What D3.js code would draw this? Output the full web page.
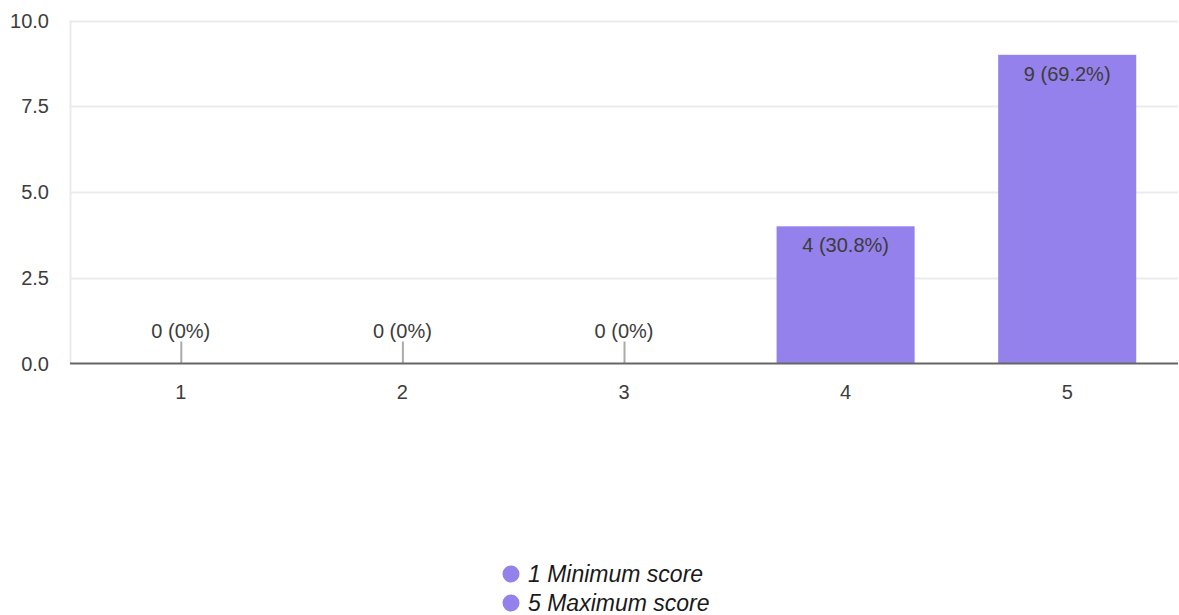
<!DOCTYPE html>
<html>
<head>
<meta charset="utf-8">
<script src="https://cdn.jsdelivr.net/npm/d3@7"></script>
<style>
  html, body { margin: 0; padding: 0; background: #fff; }
  svg { display: block; font-family: "Liberation Sans", Arial, sans-serif; }
</style>
</head>
<body>
<svg id="chart" width="1179" height="615"></svg>
<script>
// Response counts per score
const categories = ["1", "2", "3", "4", "5"];
const counts = [0, 0, 0, 4, 9];
const percents = ["0%", "0%", "0%", "30.8%", "69.2%"];
const yTicks = [0, 2.5, 5, 7.5, 10];
const legendItems = ["1 Minimum score", "5 Maximum score"];

const barColor = "#9581eb";
const textColor = "#3c3c3c";

const svg = d3.select("#chart");
const margin = { left: 70, right: 1, top: 20.5, bottom: 251.5 };
const W = 1179, H = 615;

const x = d3.scaleBand()
  .domain(categories)
  .range([margin.left, W - margin.right])
  .paddingInner(0.377)
  .paddingOuter(0.1885);

const y = d3.scaleLinear()
  .domain([0, 10])
  .range([H - margin.bottom, margin.top]);

// horizontal gridlines
svg.append("g").selectAll("line")
  .data(yTicks.filter(d => d > 0))
  .join("line")
  .attr("x1", margin.left).attr("x2", W - margin.right)
  .attr("y1", d => Math.round(y(d)) + 0.5).attr("y2", d => Math.round(y(d)) + 0.5)
  .attr("stroke", "#ebebeb").attr("stroke-width", 2);

// left vertical gridline
svg.append("line")
  .attr("x1", margin.left + 0.5).attr("x2", margin.left + 0.5)
  .attr("y1", y(10)).attr("y2", y(0))
  .attr("stroke", "#ebebeb").attr("stroke-width", 2);

// y tick labels
svg.append("g").selectAll("text")
  .data(yTicks)
  .join("text")
  .attr("x", 49)
  .attr("y", d => y(d))
  .attr("dy", "0.36em")
  .attr("text-anchor", "end")
  .attr("font-size", 20)
  .attr("fill", textColor)
  .text(d => d3.format(".1f")(d));

const data = categories.map((c, i) => ({ c, v: counts[i], p: percents[i] }));

// bars
svg.append("g").selectAll("rect")
  .data(data.filter(d => d.v > 0))
  .join("rect")
  .attr("x", d => x(d.c))
  .attr("width", x.bandwidth())
  .attr("y", d => y(d.v))
  .attr("height", d => y(0) - y(d.v))
  .attr("fill", barColor);

// stubs for empty categories
svg.append("g").selectAll("line")
  .data(data.filter(d => d.v === 0))
  .join("line")
  .attr("x1", d => x(d.c) + x.bandwidth() / 2 + 0.5)
  .attr("x2", d => x(d.c) + x.bandwidth() / 2 + 0.5)
  .attr("y1", y(0) - 22).attr("y2", y(0))
  .attr("stroke", "#aaa").attr("stroke-width", 2);

// value labels
svg.append("g").selectAll("text")
  .data(data)
  .join("text")
  .attr("x", d => x(d.c) + x.bandwidth() / 2)
  .attr("y", d => d.v > 0 ? y(d.v) + 26 : y(0) - 26)
  .attr("text-anchor", "middle")
  .attr("font-size", 20)
  .attr("fill", textColor)
  .text(d => `${d.v} (${d.p})`);

// baseline axis
svg.append("line")
  .attr("x1", margin.left).attr("x2", W - margin.right)
  .attr("y1", y(0)).attr("y2", y(0))
  .attr("stroke", "#666").attr("stroke-width", 2);

// x tick labels
svg.append("g").selectAll("text")
  .data(categories)
  .join("text")
  .attr("x", d => x(d) + x.bandwidth() / 2)
  .attr("y", y(0) + 28)
  .attr("dy", "0.36em")
  .attr("text-anchor", "middle")
  .attr("font-size", 20)
  .attr("fill", textColor)
  .text(d => d);

// legend
const legend = svg.append("g").selectAll("g")
  .data(legendItems)
  .join("g")
  .attr("transform", (d, i) => `translate(511, ${574 + i * 29})`);
legend.append("circle").attr("r", 8.5).attr("fill", barColor);
legend.append("text")
  .attr("x", 17)
  .attr("dy", "0.36em")
  .attr("font-size", 23)
  .attr("font-style", "italic")
  .attr("fill", "#1a1a1a")
  .text(d => d);
</script>
</body>
</html>
